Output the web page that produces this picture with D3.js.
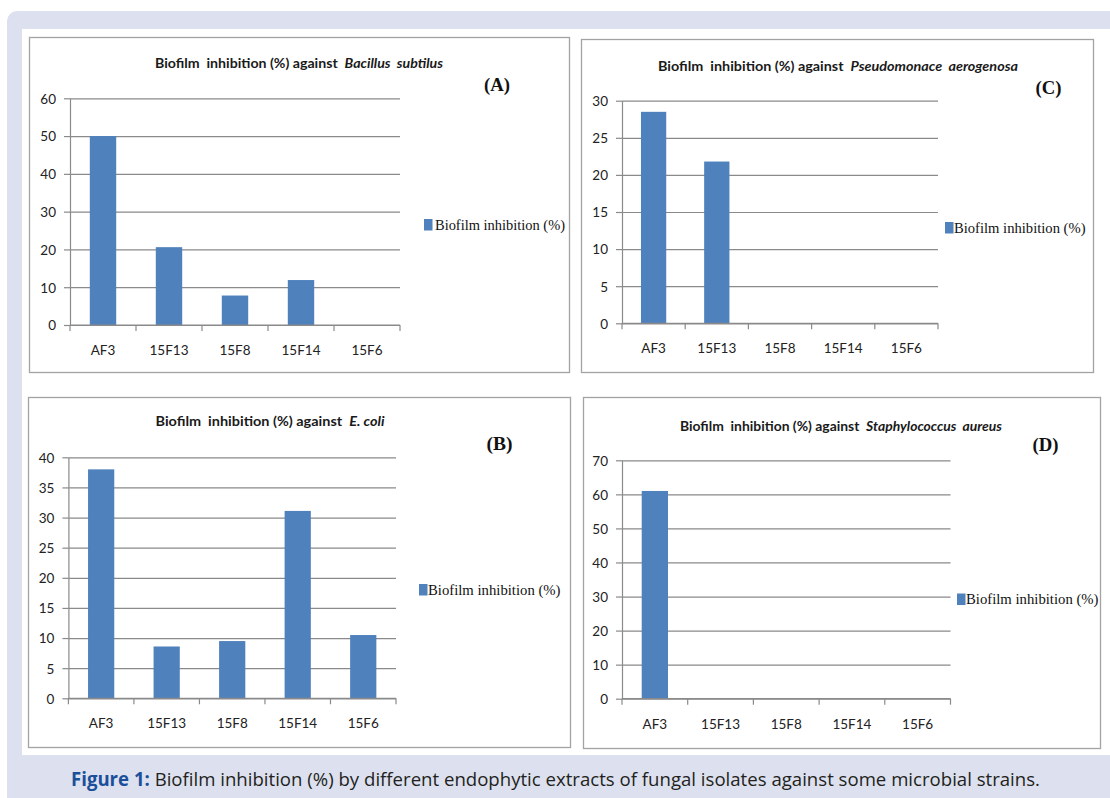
<!DOCTYPE html>
<html>
<head>
<meta charset="utf-8">
<script src="https://cdn.jsdelivr.net/npm/d3@7"></script>
<style>
  html, body { margin: 0; padding: 0; background: #ffffff; }
  svg { display: block; }
</style>
</head>
<body>
<svg id="chart" width="1110" height="798"></svg>
<script>
// ---------- data ----------
const categories = ["AF3", "15F13", "15F8", "15F14", "15F6"];
const valuesA = [50, 20.6, 7.8, 11.9, 0];      // Bacillus subtilus
const valuesB = [38, 8.6, 9.5, 31.1, 10.5];    // E. coli
const valuesC = [28.5, 21.8, 0, 0, 0];         // Pseudomonace aerogenosa
const valuesD = [61, 0, 0, 0, 0];              // Staphylococcus aureus
const ticksA = [0, 10, 20, 30, 40, 50, 60];
const ticksB = [0, 5, 10, 15, 20, 25, 30, 35, 40];
const ticksC = [0, 5, 10, 15, 20, 25, 30];
const ticksD = [0, 10, 20, 30, 40, 50, 60, 70];
const organisms = ["Bacillus  subtilus", "E. coli", "Pseudomonace  aerogenosa", "Staphylococcus  aureus"];
const panelLabels = ["(A)", "(B)", "(C)", "(D)"];
const titlePrefix = "Biofilm  inhibition (%) against  ";
const legendLabel = "Biofilm inhibition (%)";
const captionBold = "Figure 1:";
const captionText = " Biofilm inhibition (%) by different endophytic extracts of fungal isolates against some microbial strains.";

// ---------- layout ----------
const layout = [
  { vals: valuesA, ticks: ticksA, org: organisms[0], lab: panelLabels[0],
    box: [29, 37, 569, 372], plot: [70, 400, 98.3, 325], title: [299, 63, 288],
    labPos: [497, 85], leg: [424, 219, 435, 565, 225], xlabY: 350 },
  { vals: valuesB, ticks: ticksB, org: organisms[1], lab: panelLabels[1],
    box: [28, 397, 570, 747], plot: [68.4, 396, 457.3, 698.3], title: [270, 421, 229],
    labPos: [499.5, 444], leg: [419, 584, 428, 560.5, 589.5], xlabY: 723.5 },
  { vals: valuesC, ticks: ticksC, org: organisms[2], lab: panelLabels[2],
    box: [581, 39, 1093, 372], plot: [622, 938, 100.7, 323.3], title: [838, 66, 360],
    labPos: [1048.5, 88], leg: [945, 222, 954, 1085.5, 227.5], xlabY: 348.5 },
  { vals: valuesD, ticks: ticksD, org: organisms[3], lab: panelLabels[3],
    box: [583, 397, 1100, 748], plot: [622, 950.5, 460.3, 698.7], title: [841, 426, 322],
    labPos: [1045.5, 445], leg: [957, 593.5, 966, 1098.5, 599], xlabY: 724.5 }
];

const svg = d3.select("#chart");
const sansFont = "Lato, 'Open Sans', 'Noto Sans', sans-serif";
const serifFont = "'Liberation Serif', 'DejaVu Serif', serif";
const barColor = "#4f81bd";
const gridColor = "#8a8a8a";

// background frame
svg.append("rect").attr("x", 7).attr("y", 11).attr("width", 1120).attr("height", 800)
  .attr("rx", 10).attr("fill", "#dde1ef");
svg.append("rect").attr("x", 22).attr("y", 29).attr("width", 1100).attr("height", 726)
  .attr("fill", "#ffffff");

layout.forEach(p => {
  const g = svg.append("g");
  const [bx0, by0, bx1, by1] = p.box;
  g.append("rect").attr("x", bx0 + 0.5).attr("y", by0 + 0.5)
    .attr("width", bx1 - bx0).attr("height", by1 - by0)
    .attr("fill", "#ffffff").attr("stroke", "#a3a3a3").attr("stroke-width", 1.3);

  const [x0, x1, yTop, yBot] = p.plot;
  const yMax = p.ticks[p.ticks.length - 1];
  const x = d3.scaleBand().domain(categories).range([x0, x1]).paddingInner(0.6).paddingOuter(0.3);
  const y = d3.scaleLinear().domain([0, yMax]).range([yBot, yTop]);

  // gridlines
  const grid = g.append("g").attr("transform", `translate(${x0},0)`)
    .call(d3.axisLeft(y).tickValues(p.ticks).tickSize(-(x1 - x0)).tickFormat("").tickSizeOuter(0));
  grid.select(".domain").remove();
  grid.selectAll("line").attr("stroke", gridColor).attr("stroke-width", 1.2);

  // y axis with labels and small outer ticks
  const ya = g.append("g").attr("transform", `translate(${x0},0)`)
    .call(d3.axisLeft(y).tickValues(p.ticks).tickSize(6).tickPadding(8).tickSizeOuter(0));
  ya.select(".domain").attr("stroke", gridColor).attr("stroke-width", 1.2);
  ya.selectAll("line").attr("stroke", gridColor).attr("stroke-width", 1.2);
  ya.selectAll("text").attr("font-family", sansFont).attr("font-size", 13.5)
    .attr("fill", "#222").attr("dy", "0.36em");

  // bars
  g.selectAll(".bar").data(p.vals).enter().append("rect")
    .attr("x", (d, i) => x(categories[i]))
    .attr("width", x.bandwidth())
    .attr("y", d => y(d))
    .attr("height", d => y(0) - y(d))
    .attr("fill", barColor);

  // x axis line and boundary ticks
  g.append("line").attr("x1", x0).attr("x2", x1).attr("y1", y(0)).attr("y2", y(0))
    .attr("stroke", gridColor).attr("stroke-width", 1.2);
  const bounds = d3.range(categories.length + 1).map(i => x0 + i * x.step());
  g.selectAll(".xt").data(bounds).enter().append("line")
    .attr("x1", d => d).attr("x2", d => d)
    .attr("y1", y(0)).attr("y2", y(0) + 6)
    .attr("stroke", gridColor).attr("stroke-width", 1.2);
  g.selectAll(".xl").data(categories).enter().append("text")
    .attr("x", d => x(d) + x.bandwidth() / 2)
    .attr("y", p.xlabY).attr("dy", "0.36em")
    .attr("text-anchor", "middle")
    .attr("font-family", sansFont).attr("font-size", 13.5).attr("fill", "#222")
    .text(d => d);

  // title
  const t = g.append("text").attr("x", p.title[0]).attr("y", p.title[1]).attr("dy", "0.36em")
    .attr("text-anchor", "middle").attr("font-family", sansFont).attr("font-size", 12.5)
    .attr("font-weight", 700).attr("fill", "#1a1a1a")
    .attr("textLength", p.title[2]).attr("lengthAdjust", "spacingAndGlyphs")
    .style("white-space", "pre");
  t.append("tspan").text(titlePrefix);
  t.append("tspan").attr("font-style", "italic").text(p.org);

  // panel label
  g.append("text").attr("x", p.labPos[0]).attr("y", p.labPos[1]).attr("dy", "0.35em")
    .attr("text-anchor", "middle").attr("font-family", serifFont).attr("font-size", 18)
    .attr("font-weight", 700).attr("fill", "#111")
    .attr("textLength", 26).attr("lengthAdjust", "spacingAndGlyphs")
    .text(p.lab);

  // legend
  const [lsx, lsy, ltx0, ltx1, lty] = p.leg;
  g.append("rect").attr("x", lsx).attr("y", lsy).attr("width", 8.5).attr("height", 11.5)
    .attr("fill", barColor);
  g.append("text").attr("x", ltx0).attr("y", lty).attr("dy", "0.35em")
    .attr("font-family", serifFont).attr("font-size", 15).attr("fill", "#111")
    .attr("textLength", ltx1 - ltx0).attr("lengthAdjust", "spacingAndGlyphs")
    .text(legendLabel);
});

// caption
const cap = svg.append("text").attr("x", 71).attr("y", 786)
  .attr("font-family", "'Open Sans', 'Noto Sans', sans-serif").attr("font-size", 19)
  .attr("fill", "#231f20")
  .attr("textLength", 969).attr("lengthAdjust", "spacingAndGlyphs")
  .style("white-space", "pre");
cap.append("tspan").attr("font-weight", 700).attr("fill", "#1b4f9a").text(captionBold);
cap.append("tspan").text(captionText);
</script>
</body>
</html>
